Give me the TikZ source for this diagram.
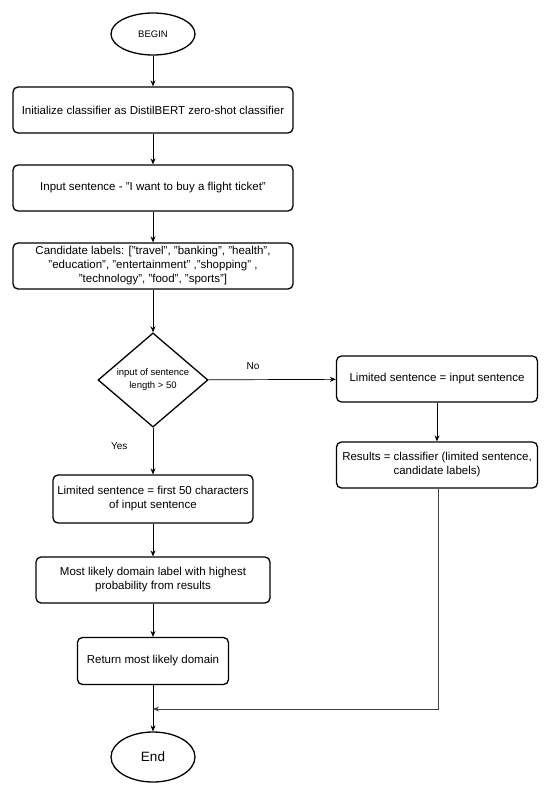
\documentclass[tikz,border=0pt]{standalone}
\usepackage{fontspec}
\setmainfont{Liberation Sans}[Ligatures=NoCommon]
\usetikzlibrary{shapes.geometric,arrows.meta}
\begin{document}
\begin{tikzpicture}[x=1pt,y=-1pt,
  proc/.style={draw,line width=1.3pt,rounded corners=5pt,align=center,font=\fontsize{11.5}{14}\selectfont,inner sep=0pt},
  term/.style={draw,line width=1.3pt,ellipse,inner sep=0pt},
  dec/.style={draw,line width=1.3pt,diamond,inner sep=0pt,align=center,font=\fontsize{9.5}{13}\selectfont},
  arr/.style={line width=0.7pt,-{Stealth[length=6pt,width=5pt,inset=2pt]}},
  lbl/.style={font=\fontsize{10}{12}\selectfont}]
\useasboundingbox (0,0) rectangle (550,795);
\node[term,minimum width=84pt,minimum height=42pt,font=\fontsize{9.5}{11}\selectfont] (begin) at (153,34) {BEGIN};
\node[proc,minimum width=280pt,minimum height=46pt] (init) at (153,110) {Initialize classifier as DistilBERT zero-shot classifier};
\node[proc,minimum width=280pt,minimum height=46pt] (input) at (153,188) {Input sentence - \symbol{34}I want to buy a flight ticket\symbol{34}};
\node[proc,minimum width=280pt,minimum height=46pt] (cand) at (153,266) {Candidate labels: [\symbol{34}travel\symbol{34}, \symbol{34}banking\symbol{34}, \symbol{34}health\symbol{34},\\ \symbol{34}education\symbol{34}, \symbol{34}entertainment\symbol{34} ,\symbol{34}shopping\symbol{34} ,\\ \symbol{34}technology\symbol{34}, \symbol{34}food\symbol{34}, \symbol{34}sports\symbol{34}]};
\node[dec,minimum width=110pt,minimum height=93pt] (len) at (153,380) {input of sentence\\ length {\textgreater} 50};
\node[proc,minimum width=201pt,minimum height=46pt] (limr) at (437,379) {Limited sentence = input sentence};
\node[proc,minimum width=201pt,minimum height=46pt] (res) at (437,465) {Results = classifier (limited sentence,\\ candidate labels)};
\node[proc,minimum width=200pt,minimum height=48pt] (liml) at (153,499) {Limited sentence = first 50 characters\\ of input sentence};
\node[proc,minimum width=234pt,minimum height=46pt] (most) at (153,580) {Most likely domain label with highest\\ probability from results};
\node[proc,minimum width=151pt,minimum height=47pt] (ret) at (153,661) {Return most likely domain};
\node[term,minimum width=84pt,minimum height=50pt,font=\fontsize{13.5}{15}\selectfont] (end) at (153,757) {End};
\coordinate (merge) at (153,709);
\coordinate (corner) at (438,709);
\draw[arr] (begin) -- (init);
\draw[arr] (init) -- (input);
\draw[arr] (input) -- (cand);
\draw[arr] (cand) -- (len);
\draw[arr] (len) -- node[lbl,pos=0.35,above=6pt] {No} (limr);
\draw[arr] (len) -- node[lbl,pos=0.4,left=22pt] {Yes} (liml);
\draw[arr] (limr) -- (res);
\draw[arr] (liml) -- (most);
\draw[arr] (most) -- (ret);
\draw[arr] (ret) -- (end);
\draw[arr,black!75] (res.south -| corner) -- (corner) -- (merge);
\end{tikzpicture}
\end{document}
